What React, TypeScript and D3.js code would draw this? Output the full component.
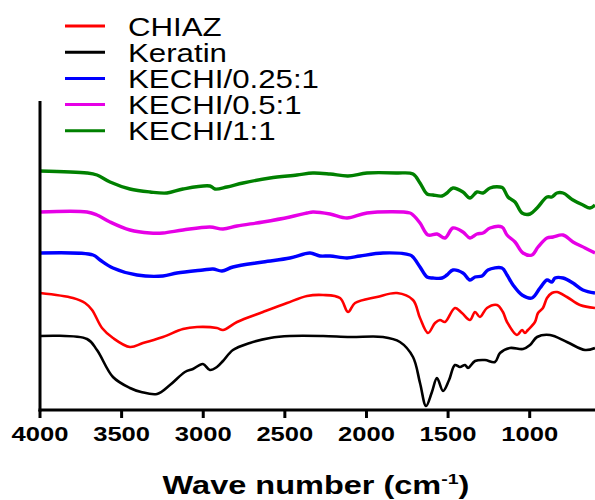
import React from "react";
import * as d3 from "d3";

type Pt = [number, number];

// wavenumber (cm^-1), transmittance (a.u., offset-stacked)
const keratin: Pt[] = [[4000,74],[3712,71],[3651,60],[3553,33],[3449,22],[3380,18],[3283,16],[3204,25],[3112,38],[3063,41],[3002,46],[2959,40],[2916,43],[2879,49],[2818,60],[2714,67],[2591,72],[2469,74],[2266,74],[2100,73],[1899,73],[1795,68],[1715,53],[1672,27],[1635,4],[1599,18],[1568,32],[1531,19],[1494,30],[1458,45],[1427,43],[1396,45],[1378,42],[1335,49],[1274,50],[1213,48],[1182,57],[1121,62],[1041,61],[998,65],[955,73],[876,75],[772,68],[661,60],[600,62]];
const chiaz: Pt[] = [[4000,117],[3798,112],[3724,107],[3681,100],[3620,82],[3553,72],[3449,63],[3369,67],[3247,73],[3124,81],[3038,83],[2916,82],[2879,80],[2793,88],[2634,98],[2487,107],[2364,114],[2266,115],[2162,112],[2113,98],[2070,107],[1936,113],[1813,117],[1715,110],[1672,92],[1623,77],[1580,87],[1550,90],[1519,88],[1458,102],[1415,97],[1366,90],[1335,98],[1305,93],[1262,102],[1200,105],[1164,98],[1139,88],[1078,75],[1047,80],[1029,77],[1011,80],[968,88],[949,97],[919,102],[894,112],[864,117],[833,118],[772,113],[692,105],[600,102]];
const kechi025: Pt[] = [[4000,157],[3675,155],[3632,150],[3553,142],[3406,135],[3247,134],[3161,137],[3002,140],[2940,141],[2885,139],[2818,143],[2634,148],[2469,152],[2346,157],[2285,154],[2223,154],[2119,152],[2040,154],[1899,157],[1733,155],[1715,153],[1672,143],[1629,133],[1593,132],[1537,132],[1507,135],[1470,140],[1409,137],[1366,130],[1335,133],[1292,134],[1256,140],[1170,142],[1139,135],[1102,125],[1047,115],[986,112],[937,122],[894,130],[864,128],[845,132],[796,132],[735,127],[674,120],[600,117]];
const kechi05: Pt[] = [[4000,198],[3712,198],[3651,195],[3571,188],[3449,180],[3326,177],[3247,177],[3124,180],[2959,183],[2879,181],[2793,184],[2634,188],[2469,193],[2364,197],[2328,198],[2223,196],[2119,192],[1997,197],[1733,197],[1715,195],[1672,187],[1623,175],[1568,176],[1519,172],[1470,182],[1409,178],[1366,172],[1323,176],[1286,177],[1243,182],[1170,183],[1139,175],[1090,168],[1041,157],[986,155],[949,163],[894,172],[857,173],[796,175],[735,168],[661,162],[600,157]];
const kechi11: Pt[] = [[4000,239],[3712,237],[3651,235],[3571,228],[3449,221],[3326,218],[3222,217],[3124,221],[2959,224],[2928,221],[2855,223],[2756,227],[2591,232],[2426,235],[2328,237],[2223,236],[2113,234],[1997,237],[1813,237],[1715,236],[1672,227],[1629,216],[1593,215],[1537,214],[1507,217],[1470,222],[1409,218],[1366,212],[1323,218],[1286,217],[1243,222],[1182,223],[1164,222],[1133,213],[1090,208],[1047,197],[998,196],[955,202],[894,213],[864,213],[833,217],[796,217],[735,210],[674,205],[631,202],[600,205]];

const seriesNames = ["CHIAZ", "Keratin", "KECHI/0.25:1", "KECHI/0.5:1", "KECHI/1:1"];
const seriesColors = ["#ff0000", "#000000", "#0000ff", "#e600e6", "#008000"];
const seriesData = [chiaz, keratin, kechi025, kechi05, kechi11];
const seriesWidths = [2.6, 2.6, 3.4, 3.4, 3.4];
const xTicks = [4000, 3500, 3000, 2500, 2000, 1500, 1000];

export default function App() {
  const W = 595, H = 500;
  const x = d3.scaleLinear().domain([4000, 600]).range([40, 595]);
  const y = d3.scaleLinear().domain([0, 310]).range([410, 100]);
  const line = d3.line<Pt>().x(d => x(d[0])).y(d => y(d[1])).curve(d3.curveCatmullRom.alpha(0.5));
  const font = "Liberation Sans, Arial, sans-serif";
  return (
    <svg width={W} height={H} style={{ position: "absolute", left: 0, top: 0, background: "#fff" }} fontFamily={font}>
      <rect width={W} height={H} fill="#fff" />
      {seriesData.map((d, i) => (
        <path key={i} d={line(d) || ""} fill="none" stroke={seriesColors[i]} strokeWidth={seriesWidths[i]} strokeLinejoin="round" />
      ))}
      {/* axes */}
      <line x1={x(4000)} x2={x(4000)} y1={y(309)} y2={y(0) + 1.5} stroke="#000" strokeWidth={3} />
      <line x1={x(4000) - 1.5} x2={W} y1={y(0)} y2={y(0)} stroke="#000" strokeWidth={3} />
      {xTicks.map(t => (
        <g key={t}>
          <line x1={x(t)} x2={x(t)} y1={y(0)} y2={y(0) + 8} stroke="#000" strokeWidth={3} />
          <text transform={`translate(${x(t)},${y(0) + 31}) scale(1.28,1)`} textAnchor="middle" fontWeight="bold" fontSize={20} fill="#000">{t}</text>
        </g>
      ))}
      <text transform={`translate(316,494) scale(1.3,1)`} textAnchor="middle" fontWeight="bold" fontSize={25} fill="#000">
        Wave number (cm<tspan dy={-10} fontSize={15}>-1</tspan><tspan dy={10}>)</tspan>
      </text>
      {/* legend */}
      {seriesNames.map((n, i) => (
        <g key={n}>
          <line x1={65} x2={105} y1={26 + i * 26.2} y2={26 + i * 26.2} stroke={seriesColors[i]} strokeWidth={3} />
          <text transform={`translate(128,${35.5 + i * 26.2}) scale(1.25,1)`} fontSize={25} fill="#000">{n}</text>
        </g>
      ))}
    </svg>
  );
}
